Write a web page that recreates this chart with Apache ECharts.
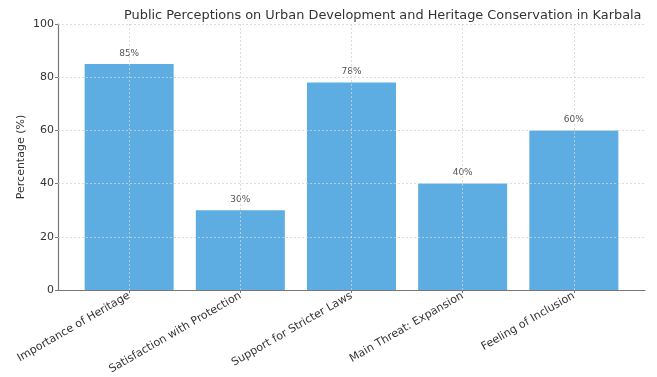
<!DOCTYPE html>
<html>
<head>
<meta charset="utf-8">
<script src="https://cdn.jsdelivr.net/npm/echarts@6/dist/echarts.min.js"></script>
<style>html,body{margin:0;padding:0;background:#fff}#c{width:657px;height:377px}</style>
</head>
<body>
<div id="c"></div>
<script>
const categories = ["Importance of Heritage", "Satisfaction with Protection", "Support for Stricter Laws", "Main Threat: Expansion", "Feeling of Inclusion"];
const values = [85, 30, 78, 40, 60];
const yTicks = [0, 20, 40, 60, 80, 100];
const titleText = "Public Perceptions on Urban Development and Heritage Conservation in Karbala";

const idx = categories.map((c, i) => i);
const chart = echarts.init(document.getElementById('c'), null, {renderer: 'canvas'});
const font = 'DejaVu Sans';
const gridStyle = {color: '#d4d4d4', type: [2, 2], width: 0.8};
chart.setOption({
  animation: false,
  title: {
    text: titleText, left: 124, top: 9, padding: 0,
    textStyle: {fontFamily: font, fontSize: 12.9, fontWeight: 'normal', color: '#333'}
  },
  grid: {left: 58, right: 12, top: 24, bottom: 87},
  xAxis: {
    type: 'value', min: -0.64, max: 4.64,
    axisLine: {show: true, onZero: false, lineStyle: {color: '#777', width: 1.2}},
    axisTick: {show: true, customValues: idx, length: 3, inside: false, lineStyle: {color: '#777'}},
    axisLabel: {customValues: idx, rotate: 30, formatter: v => categories[Math.round(v)] || '', fontFamily: font, fontSize: 11, color: '#333', margin: 5},
    splitLine: {show: false}
  },
  yAxis: {
    type: 'value', min: 0, max: 100, interval: 20,
    name: 'Percentage (%)', nameLocation: 'middle', nameGap: 31, nameRotate: 90, nameMoveOverlap: false,
    nameTextStyle: {fontFamily: font, fontSize: 11, color: '#333'},
    axisLine: {show: true, onZero: false, lineStyle: {color: '#777', width: 1.2}},
    axisTick: {show: true, length: 3, lineStyle: {color: '#777'}},
    axisLabel: {fontFamily: font, fontSize: 11, color: '#333', margin: 4},
    splitLine: {show: false}
  },
  series: [{
    type: 'bar',
    data: values.map((v, i) => [i, v]),
    barWidth: 89,
    itemStyle: {color: '#5DADE2'},
    label: {show: true, position: 'top', distance: 6, formatter: p => p.value[1] + '%', fontFamily: font, fontSize: 9, color: '#555'},
    markLine: {
      silent: true, symbol: 'none', z: 10,
      label: {show: false},
      lineStyle: gridStyle,
      emphasis: {disabled: true},
      data: idx.map(i => ({xAxis: i})).concat(yTicks.slice(1).map(t => ({yAxis: t})))
    }
  }]
});
</script>
</body>
</html>
